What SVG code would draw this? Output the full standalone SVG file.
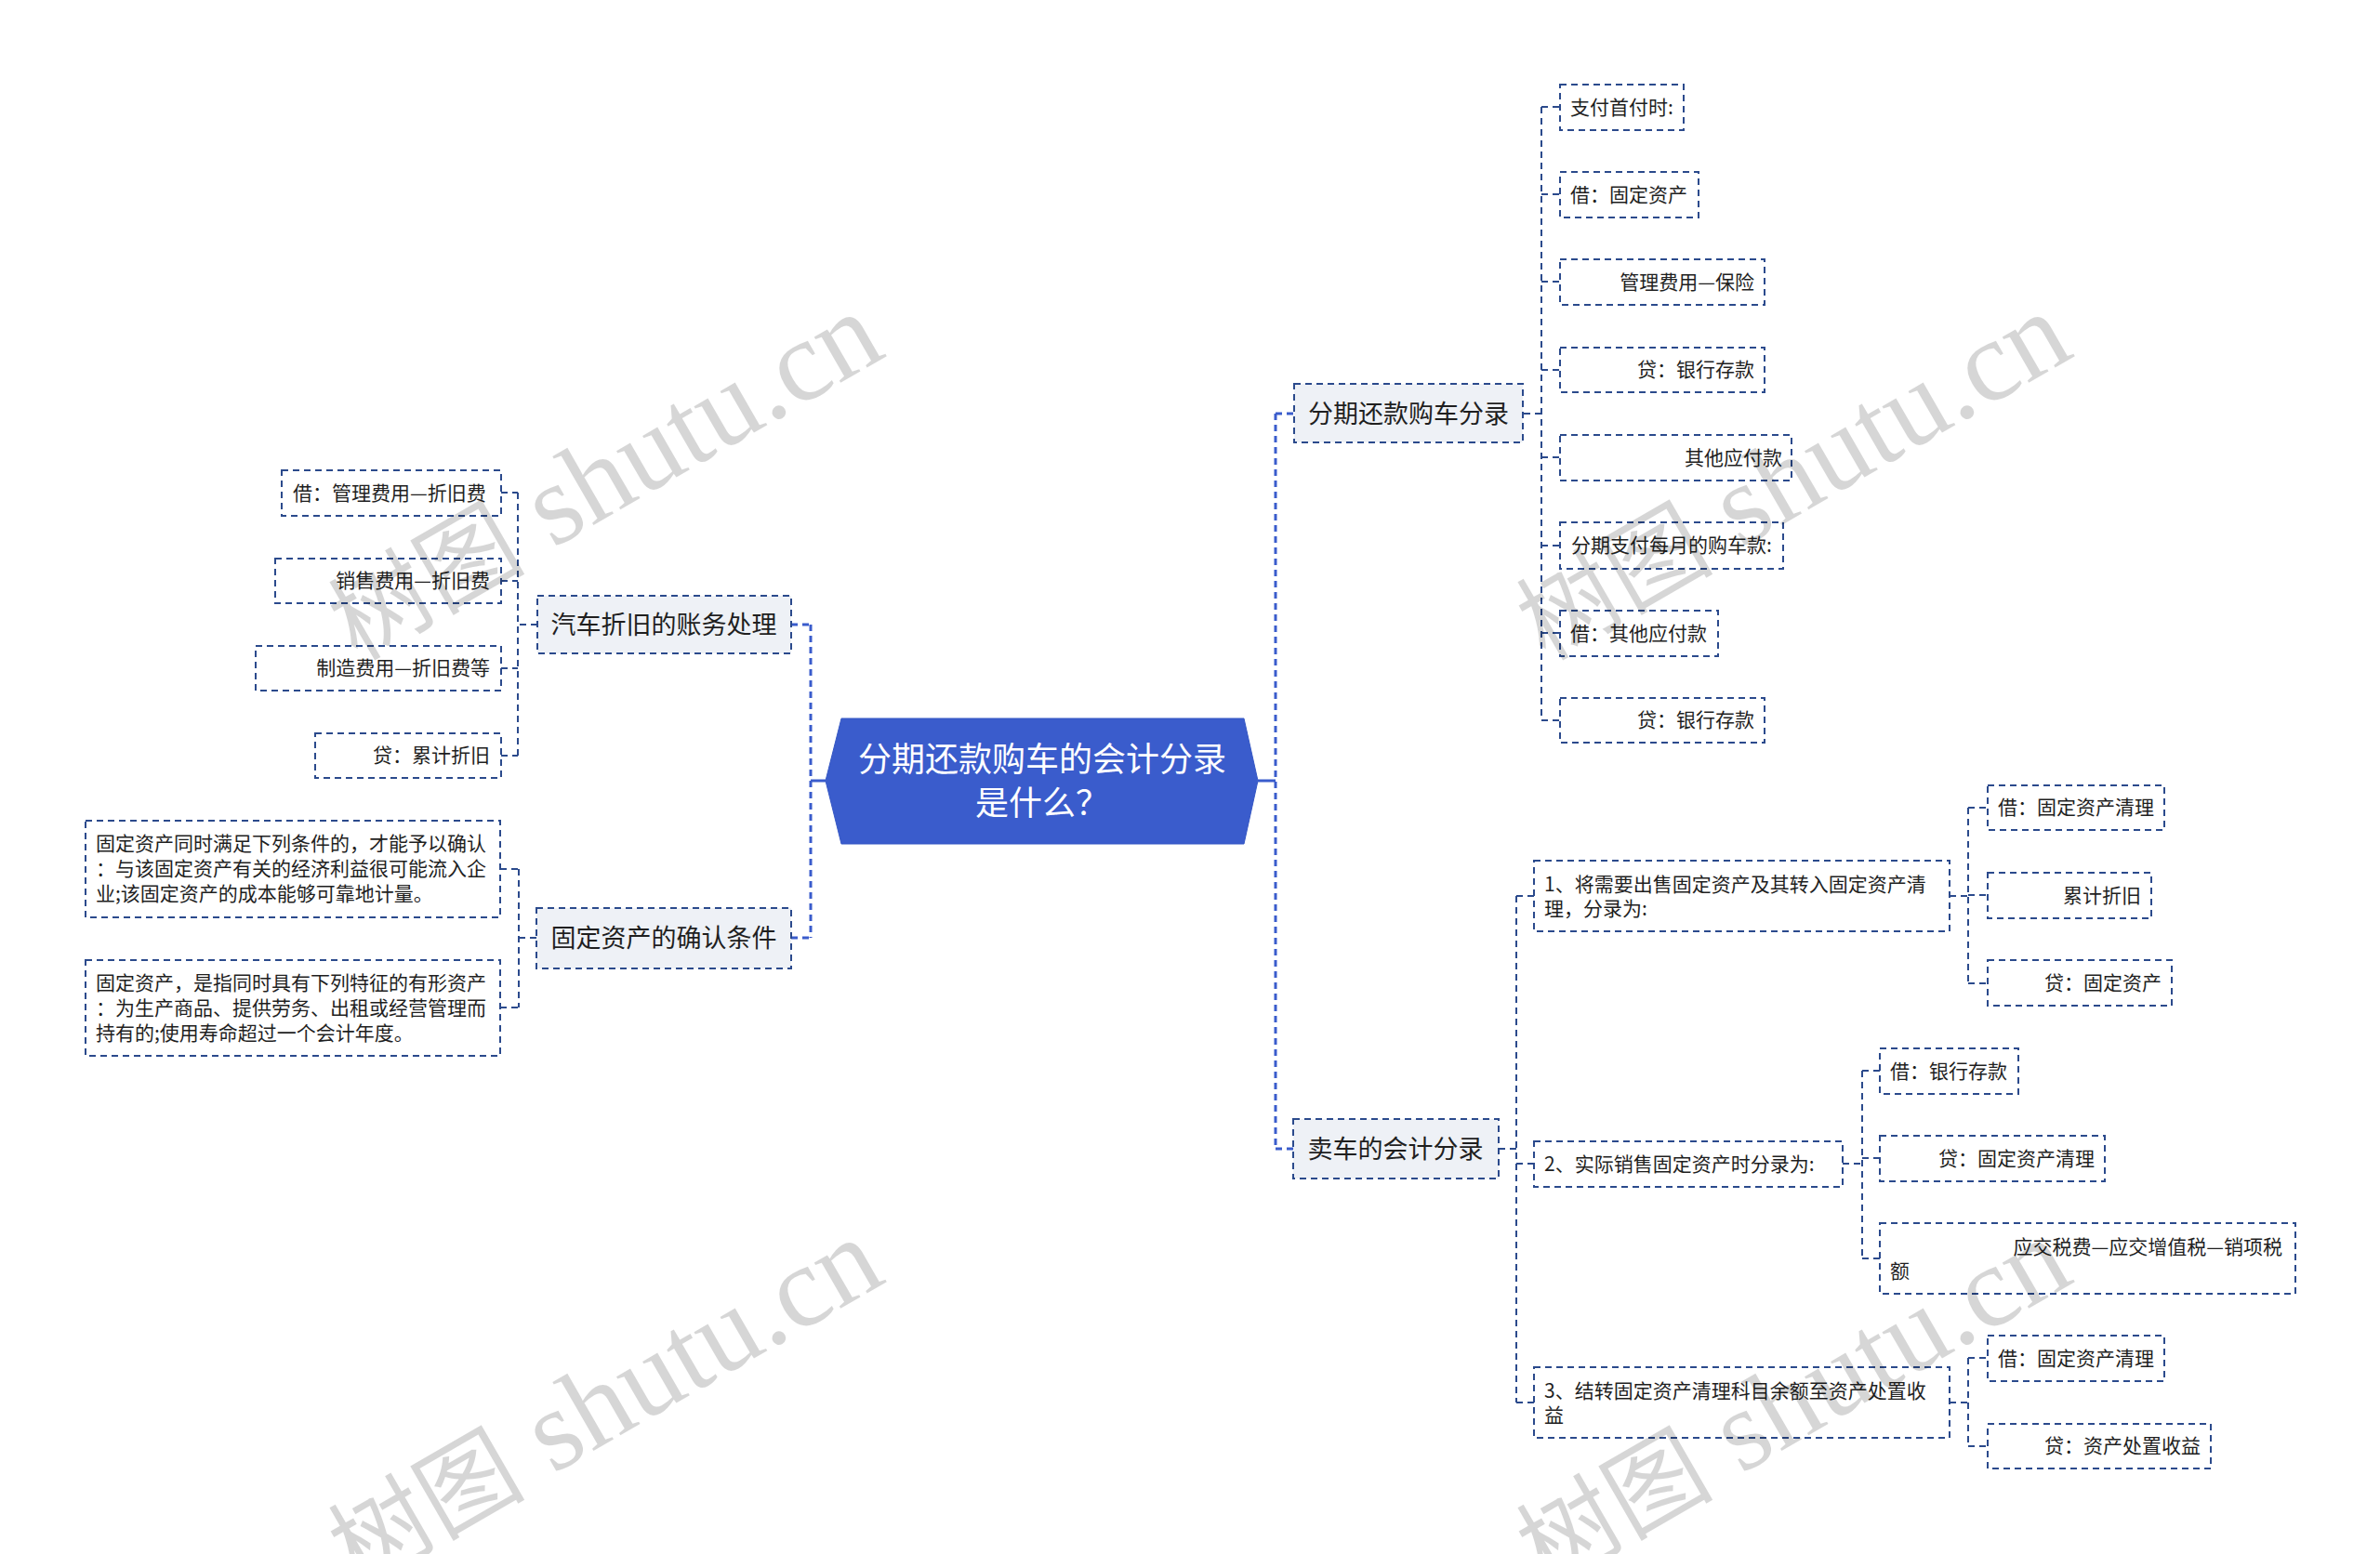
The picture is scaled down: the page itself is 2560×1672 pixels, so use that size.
<svg xmlns="http://www.w3.org/2000/svg" width="2560" height="1672" viewBox="0 0 2560 1672">
<style>
text{font-family:"Noto Sans CJK SC","Noto Sans",sans-serif;fill:#1f1f1f;dominant-baseline:central}
.s{font-size:21px}
.m{font-size:27px}
.c{font-size:36px;fill:#ffffff}
.box{fill:#ffffff;stroke:#2b4a8c;stroke-width:2;stroke-dasharray:7 5}
.b1{fill:#eef1f6;stroke:#2b4a8c;stroke-width:2;stroke-dasharray:7 5}
.ln{fill:none;stroke:#2b4a8c;stroke-width:2;stroke-dasharray:7 5}
.tr{fill:none;stroke:#3a5ccc;stroke-width:3;stroke-dasharray:7 5}
.sol{fill:none;stroke:#3a5ccc;stroke-width:3}
.r{text-anchor:end}
.mid{text-anchor:middle}
.wm{font-family:"Liberation Serif","Noto Sans CJK SC",serif;font-size:124px;fill:#000000;fill-opacity:0.16;dominant-baseline:auto}
.wc{font-size:106px}
</style>
<rect width="2560" height="1672" fill="#ffffff"/>

<g id="connectors">
  <path class="sol" d="M888 840H872M1353 840H1372"/>
  <path class="tr" d="M872 672V1009M851 672H872M851 1009H872"/>
  <path class="tr" d="M1372 445V1236M1372 445H1392M1372 1236H1391"/>
  <path class="ln" d="M1639 445H1658M1658 115V775M1658 115H1678M1658 209H1678M1658 303H1678M1658 398H1678M1658 492H1678M1658 587H1678M1658 681H1678M1658 775H1678"/>
  <path class="ln" d="M1612 1236H1631M1631 964V1509M1631 964H1650M1631 1252H1650M1631 1509H1650"/>
  <path class="ln" d="M2097 964H2117M2117 869V1058M2117 869H2138M2117 963H2138M2117 1058H2138"/>
  <path class="ln" d="M1982 1252H2003M2003 1152V1354M2003 1152H2022M2003 1246H2022M2003 1354H2022"/>
  <path class="ln" d="M2097 1509H2117M2117 1461V1556M2117 1461H2138M2117 1556H2138"/>
  <path class="ln" d="M578 672H557M557 530V813M539 530H557M539 625H557M539 719H557M539 813H557"/>
  <path class="ln" d="M577 1009H558M558 935V1084M538 935H558M538 1084H558"/>
</g>

<g id="center">
  <polygon points="905,773 1338,773 1353,840 1338,908 905,908 888,840" fill="#3a5ccc" stroke="#3557c4" stroke-width="1"/>
  <text class="c mid" x="1121" y="814">分期还款购车的会计分录</text>
  <text class="c mid" x="1121" y="861">是什么？</text>
</g>

<g id="n-fenqi">
  <rect class="b1" x="1392" y="413" width="246" height="63"/>
  <text class="m mid" x="1515" y="443">分期还款购车分录</text>
</g>
<g id="n-r1"><rect class="box" x="1678" y="91" width="133" height="49"/><text class="s" x="1689" y="114">支付首付时:</text></g>
<g id="n-r2"><rect class="box" x="1678" y="185" width="149" height="49"/><text class="s" x="1689" y="208">借：固定资产</text></g>
<g id="n-r3"><rect class="box" x="1678" y="279" width="220" height="49"/><text class="s r" x="1887" y="302">管理费用—保险</text></g>
<g id="n-r4"><rect class="box" x="1678" y="374" width="220" height="48"/><text class="s r" x="1887" y="396">贷：银行存款</text></g>
<g id="n-r5"><rect class="box" x="1678" y="468" width="249" height="49"/><text class="s r" x="1917" y="491">其他应付款</text></g>
<g id="n-r6"><rect class="box" x="1678" y="562" width="240" height="50"/><text class="s" x="1690" y="585">分期支付每月的购车款:</text></g>
<g id="n-r7"><rect class="box" x="1678" y="657" width="170" height="49"/><text class="s" x="1689" y="680">借：其他应付款</text></g>
<g id="n-r8"><rect class="box" x="1678" y="751" width="220" height="48"/><text class="s r" x="1887" y="773">贷：银行存款</text></g>

<g id="n-maiche">
  <rect class="b1" x="1391" y="1204" width="221" height="64"/>
  <text class="m mid" x="1501" y="1234">卖车的会计分录</text>
</g>
<g id="n-s1"><rect class="box" x="1650" y="926" width="447" height="76"/><text class="s" x="1661" y="950">1、将需要出售固定资产及其转入固定资产清</text><text class="s" x="1661" y="976">理，分录为:</text></g>
<g id="n-s2"><rect class="box" x="1650" y="1228" width="332" height="49"/><text class="s" x="1661" y="1251">2、实际销售固定资产时分录为:</text></g>
<g id="n-s3"><rect class="box" x="1650" y="1471" width="447" height="76"/><text class="s" x="1661" y="1495">3、结转固定资产清理科目余额至资产处置收</text><text class="s" x="1661" y="1521">益</text></g>
<g id="n-c1"><rect class="box" x="2138" y="845" width="190" height="48"/><text class="s" x="2149" y="867">借：固定资产清理</text></g>
<g id="n-c2"><rect class="box" x="2138" y="939" width="176" height="49"/><text class="s r" x="2303" y="962">累计折旧</text></g>
<g id="n-c3"><rect class="box" x="2138" y="1033" width="198" height="49"/><text class="s r" x="2325" y="1056">贷：固定资产</text></g>
<g id="n-d1"><rect class="box" x="2022" y="1128" width="149" height="49"/><text class="s" x="2033" y="1151">借：银行存款</text></g>
<g id="n-d2"><rect class="box" x="2022" y="1222" width="242" height="49"/><text class="s r" x="2253" y="1245">贷：固定资产清理</text></g>
<g id="n-d3"><rect class="box" x="2022" y="1316" width="447" height="76"/><text class="s r" x="2455" y="1340">应交税费—应交增值税—销项税</text><text class="s" x="2033" y="1366">额</text></g>
<g id="n-e1"><rect class="box" x="2138" y="1437" width="190" height="49"/><text class="s" x="2149" y="1460">借：固定资产清理</text></g>
<g id="n-e2"><rect class="box" x="2138" y="1532" width="240" height="48"/><text class="s r" x="2367" y="1554">贷：资产处置收益</text></g>

<g id="n-zhejiu">
  <rect class="b1" x="578" y="641" width="273" height="62"/>
  <text class="m mid" x="714" y="670">汽车折旧的账务处理</text>
</g>
<g id="n-l1"><rect class="box" x="303" y="506" width="236" height="49"/><text class="s" x="315" y="529">借：管理费用—折旧费</text></g>
<g id="n-l2"><rect class="box" x="296" y="601" width="243" height="48"/><text class="s r" x="527" y="623">销售费用—折旧费</text></g>
<g id="n-l3"><rect class="box" x="275" y="695" width="264" height="48"/><text class="s r" x="527" y="717">制造费用—折旧费等</text></g>
<g id="n-l4"><rect class="box" x="339" y="789" width="200" height="48"/><text class="s r" x="527" y="811">贷：累计折旧</text></g>

<g id="n-queren">
  <rect class="b1" x="577" y="977" width="274" height="65"/>
  <text class="m mid" x="714" y="1007">固定资产的确认条件</text>
</g>
<g id="n-m1"><rect class="box" x="92" y="883" width="446" height="104"/>
  <text class="s" x="103" y="906">固定资产同时满足下列条件的，才能予以确认</text>
  <text class="s" x="103" y="933">：与该固定资产有关的经济利益很可能流入企</text>
  <text class="s" x="103" y="960">业;该固定资产的成本能够可靠地计量。</text>
</g>
<g id="n-m2"><rect class="box" x="92" y="1033" width="446" height="103"/>
  <text class="s" x="103" y="1056">固定资产，是指同时具有下列特征的有形资产</text>
  <text class="s" x="103" y="1083">：为生产商品、提供劳务、出租或经营管理而</text>
  <text class="s" x="103" y="1110">持有的;使用寿命超过一个会计年度。</text>
</g>

<g id="watermarks">
  <text class="wm" x="384" y="712" transform="rotate(-30 384 712)"><tspan class="wc">树图</tspan> shutu.cn</text>
  <text class="wm" x="1662" y="712" transform="rotate(-30 1662 712)"><tspan class="wc">树图</tspan> shutu.cn</text>
  <text class="wm" x="384" y="1708" transform="rotate(-30 384 1708)"><tspan class="wc">树图</tspan> shutu.cn</text>
  <text class="wm" x="1662" y="1708" transform="rotate(-30 1662 1708)"><tspan class="wc">树图</tspan> shutu.cn</text>
</g>
</svg>
